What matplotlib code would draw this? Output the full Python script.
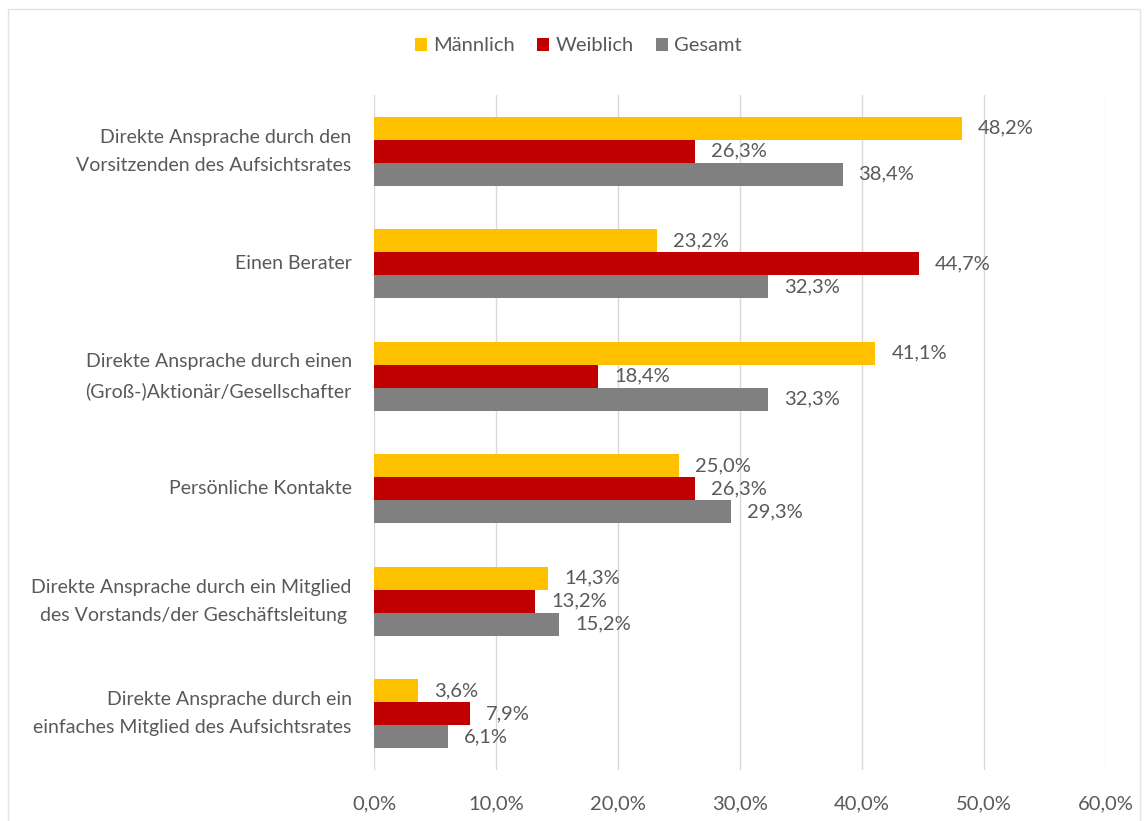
import matplotlib
matplotlib.use("Agg")
import matplotlib.pyplot as plt
import numpy as np
from matplotlib.patches import Rectangle

# ── Data ──────────────────────────────────────────────────────────────────────

categories = [
    "Direkte Ansprache durch den\nVorsitzenden des Aufsichtsrates",
    "Einen Berater",
    "Direkte Ansprache durch einen\n(Groß-)Aktionär/Gesellschafter",
    "Persönliche Kontakte",
    "Direkte Ansprache durch ein Mitglied\ndes Vorstands/der Geschäftsleitung ",
    "Direkte Ansprache durch ein\neinfaches Mitglied des Aufsichtsrates",
]
maennlich = [48.2, 23.2, 41.1, 25.0, 14.3, 3.6]
weiblich = [26.3, 44.7, 18.4, 26.3, 13.2, 7.9]
gesamt = [38.4, 32.3, 32.3, 29.3, 15.2, 6.1]
series_names = ["Männlich", "Weiblich", "Gesamt"]
xticks = [0, 10, 20, 30, 40, 50, 60]

COLORS = ["#FFC000", "#C00000", "#808080"]
TEXT = "#595959"
FS = 14.5

plt.rcParams["font.family"] = ["Lato", "DejaVu Sans"]

fig = plt.figure(figsize=(11.45, 8.21), dpi=100)
ax = fig.add_axes([0.3266, 0.0621, 0.6394, 0.8222])

bar_h = 0.205
y = np.arange(len(categories))
for k, (vals, name) in enumerate(zip([maennlich, weiblich, gesamt], series_names)):
    pos = y + (k - 1) * bar_h
    ax.barh(pos, vals, height=bar_h, color=COLORS[k], label=name, zorder=3)
    for p, v in zip(pos, vals):
        ax.text(v + 1.3, p, f"{v:.1f}%".replace(".", ","), va="center", ha="left",
                fontsize=FS, color=TEXT, zorder=4)

ax.set_ylim(len(categories) - 0.5, -0.5)
ax.set_xlim(0, 60)
ax.set_yticks(y)
ax.set_yticklabels(categories, fontsize=14, color=TEXT, ha="right", va="center",
                   linespacing=1.8)
ax.set_xticks(xticks)
ax.set_xticklabels([f"{t:.1f}%".replace(".", ",") for t in xticks], fontsize=FS, color=TEXT)
ax.tick_params(axis="both", length=0)
ax.tick_params(axis="y", pad=16)
ax.tick_params(axis="x", pad=18)
ax.grid(axis="x", color="#D9D9D9", linewidth=1, zorder=0)
for s in ax.spines.values():
    s.set_visible(False)

fig.legend(loc="center", bbox_to_anchor=(0.505, 0.944), ncol=3, frameon=False,
           fontsize=FS, handlelength=0.6, handleheight=0.6, handletextpad=0.3,
           columnspacing=1.1, labelcolor=TEXT)

fig.patches.append(Rectangle((0.007, -0.01), 0.989, 0.999, transform=fig.transFigure,
                             fill=False, edgecolor="#E3E3E3", linewidth=1))

fig.savefig("out.png", dpi=100)
